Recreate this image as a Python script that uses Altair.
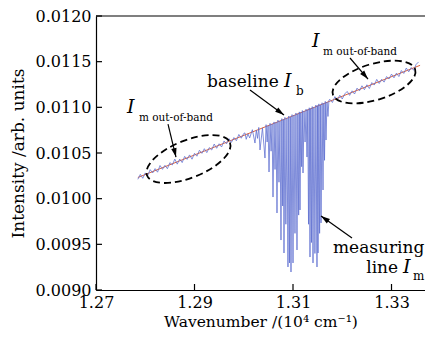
import altair as alt
import pandas as pd

FONT = "DejaVu Serif"

# ---------------- data ----------------
x_ticks = [1.27, 1.29, 1.31, 1.33]
y_ticks = [0.0090, 0.0095, 0.0100, 0.0105, 0.0110, 0.0115, 0.0120]

wn_left = [1.2785, 1.2790, 1.2795, 1.2800, 1.2805, 1.2810, 1.2815, 1.2820, 1.2825, 1.2830,
           1.2835, 1.2840, 1.2845, 1.2850, 1.2855, 1.2860, 1.2865, 1.2870, 1.2875, 1.2880,
           1.2885, 1.2890, 1.2895, 1.2900, 1.2905, 1.2910, 1.2915, 1.2920, 1.2925, 1.2930,
           1.2935, 1.2940, 1.2945, 1.2950, 1.2955, 1.2960, 1.2965, 1.2970, 1.2975, 1.2980,
           1.2985, 1.2990, 1.2995, 1.3000]
int_left = [0.010212, 0.010266, 0.010223, 0.010282, 0.010253, 0.010318, 0.010281, 0.010329,
            0.010290, 0.010363, 0.010321, 0.010365, 0.010328, 0.010395, 0.010369, 0.010433,
            0.010378, 0.010434, 0.010395, 0.010463, 0.010430, 0.010479, 0.010432, 0.010497,
            0.010465, 0.010530, 0.010496, 0.010547, 0.010504, 0.010559, 0.010533, 0.010598,
            0.010552, 0.010601, 0.010566, 0.010632, 0.010600, 0.010657, 0.010616, 0.010669,
            0.010634, 0.010703, 0.010662, 0.010714]

wn_band = [1.30025, 1.3005, 1.30085, 1.3012, 1.30175, 1.30228, 1.30255, 1.3028, 1.30305, 1.3033,
           1.3038, 1.30431, 1.30453, 1.30475, 1.30494, 1.30513, 1.30534, 1.30555, 1.30575, 1.30594,
           1.30615, 1.30635, 1.30655, 1.30675, 1.30695, 1.30715, 1.30735, 1.30756, 1.30773, 1.3079,
           1.30803, 1.30817, 1.30836, 1.30855, 1.30877, 1.30898, 1.30914, 1.3093, 1.30945, 1.30959,
           1.3098, 1.31, 1.3102, 1.3104, 1.3106, 1.31081, 1.31098, 1.31115, 1.31128, 1.31142,
           1.31158, 1.31175, 1.31189, 1.31203, 1.31224, 1.31245, 1.31265, 1.31284, 1.313, 1.31315,
           1.3133, 1.31345, 1.3136, 1.31375, 1.3139, 1.31406, 1.31425, 1.31445, 1.31465, 1.31487,
           1.31497, 1.31508, 1.31525, 1.3154, 1.31555, 1.31569, 1.3159, 1.31609, 1.31625, 1.3164,
           1.31655, 1.3167, 1.3169, 1.3171, 1.3173]
int_band = [0.010720, 0.010650, 0.010710, 0.010665, 0.010755, 0.010609, 0.010750, 0.010660,
            0.010780, 0.010533, 0.010775, 0.010445, 0.010810, 0.010620, 0.010800, 0.010292,
            0.010825, 0.010520, 0.010818, 0.010018, 0.010840, 0.010320, 0.010836, 0.009843,
            0.010860, 0.010180, 0.010850, 0.009547, 0.010876, 0.009920, 0.010867, 0.009405,
            0.010890, 0.009720, 0.010882, 0.009252, 0.010905, 0.009296, 0.010896, 0.009197,
            0.010920, 0.009296, 0.010915, 0.009620, 0.010938, 0.009438, 0.010930, 0.009820,
            0.010950, 0.009876, 0.010943, 0.010350, 0.010965, 0.010281, 0.010958, 0.010620,
            0.010980, 0.010456, 0.010975, 0.009720, 0.010995, 0.009361, 0.010988, 0.009520,
            0.011008, 0.009296, 0.011000, 0.009400, 0.011025, 0.009252, 0.011018, 0.009405,
            0.011038, 0.009620, 0.011028, 0.009734, 0.011050, 0.010095, 0.011044, 0.010420,
            0.011065, 0.010642, 0.011058, 0.010900, 0.011080]

wn_right = [1.3175, 1.3180, 1.3185, 1.3190, 1.3195, 1.3200, 1.3205, 1.3210, 1.3215, 1.3220,
            1.3225, 1.3230, 1.3235, 1.3240, 1.3245, 1.3250, 1.3255, 1.3260, 1.3265, 1.3270,
            1.3275, 1.3280, 1.3285, 1.3290, 1.3295, 1.3300, 1.3305, 1.3310, 1.3315, 1.3320,
            1.3325, 1.3330, 1.3335, 1.3340, 1.3345, 1.3350, 1.3355]
int_right = [0.011087, 0.011053, 0.011117, 0.011081, 0.011132, 0.011091, 0.011147, 0.011174,
             0.011131, 0.011181, 0.011146, 0.011210, 0.011181, 0.011236, 0.011193, 0.011247,
             0.011206, 0.011271, 0.011244, 0.011306, 0.011261, 0.011307, 0.011276, 0.011337,
             0.011310, 0.011364, 0.011323, 0.011374, 0.011337, 0.011403, 0.011371, 0.011430,
             0.011389, 0.011436, 0.011406, 0.011470, 0.011497]

base_wn = [1.2785, 1.3358]
base_int = [0.010232, 0.011460]

# annotations (data coordinates)
ell_wn = [1.28878, 1.32645]
ell_int = [0.010434, 0.011277]
ell_size = [7957, 7396]
ell_angle = [338.3, 343.0]

arr_wn = [1.28462, 1.30127, 1.32157, 1.32198]
arr_int = [0.010817, 0.011190, 0.011540, 0.009569]
arr_wn2 = [1.28624, 1.30817, 1.32523, 1.31569]
arr_int2 = [0.010456, 0.010916, 0.011310, 0.009810]
arr_angle = [166.4, 126.3, 139.4, 305.4]

txt = ["m out-of-band", "m out-of-band", "baseline", "b", "measuring", "line", "m"]
txt_wn = [1.27873, 1.31609, 1.29254, 1.31061, 1.31812, 1.32487, 1.33437]
txt_int = [0.010850, 0.011573, 0.011223, 0.011135, 0.009405, 0.009186, 0.009109]
txt_fs = [10.5, 10.5, 17, 12, 17, 17, 12]

it_wn = [1.27629, 1.31386, 1.30817, 1.33234]
it_int = [0.010938, 0.011661, 0.011223, 0.009186]

# ---------------- chart ----------------
W, H = 329, 274
x_scale = alt.Scale(domain=[1.27, 1.3368], nice=False, zero=False)
y_scale = alt.Scale(domain=[0.009, 0.012], nice=False, zero=False)

x_axis = alt.Axis(title="Wavenumber /(10⁴ cm⁻¹)", values=x_ticks, format=".2f", tickSize=0,
                  labelPadding=4, labelFlush=False,
                  labelOverlap=False, labelFontSize=16, labelFont=FONT, labelColor="black",
                  titleFont=FONT, titleFontSize=15.5, titleFontWeight="normal", titleColor="black",
                  titleY=36.5, titleBaseline="alphabetic", domainColor="black", domainWidth=1.2,
                  grid=False)
y_axis = alt.Axis(title="Intensity /arb. units", values=y_ticks, format=".4f", tickSize=0,
                  labelPadding=5, labelFlush=False,
                  labelOverlap=False, labelFontSize=16, labelFont=FONT, labelColor="black",
                  titleFont=FONT, titleFontSize=17, titleFontWeight="normal", titleColor="black",
                  titleX=-69, titleY=137, titleAngle=270, titleBaseline="bottom", titleAlign="center",
                  domainColor="black", domainWidth=1.2, grid=False)


def X(field):
    return alt.X(field, type="quantitative", scale=x_scale, axis=x_axis)


def Y(field):
    return alt.Y(field, type="quantitative", scale=y_scale, axis=y_axis)


wn_all = wn_left + wn_band + wn_right
int_all = int_left + int_band + int_right
spec_df = pd.DataFrame({"wn": wn_all, "inten": int_all, "idx": list(range(len(wn_all)))})

spec = alt.Chart(spec_df).mark_line(color="#5c6dd0", strokeWidth=0.9, opacity=0.85).encode(
    x=X("wn"), y=Y("inten"), order="idx:Q")

base = alt.Chart(pd.DataFrame({"wn": base_wn, "inten": base_int})).mark_line(
    color="#e0643c", strokeWidth=1.0).encode(x=X("wn"), y=Y("inten"))

yt = alt.Chart(pd.DataFrame({"inten": y_ticks})).mark_rule(color="black", strokeWidth=1.2).encode(
    y=Y("inten"), x=alt.value(0), x2=alt.value(6))
xt = alt.Chart(pd.DataFrame({"wn": x_ticks})).mark_rule(color="black", strokeWidth=1.2).encode(
    x=X("wn"), y=alt.value(H), y2=alt.value(H - 6))
top = alt.Chart(pd.DataFrame({"a": [0]})).mark_rule(color="black", strokeWidth=1.2).encode(
    x=alt.value(0), x2=alt.value(W), y=alt.value(0))

ELLIPSE = ("M 1 0 C 1 0.232 0.552 0.42 0 0.42 C -0.552 0.42 -1 0.232 -1 0 "
           "C -1 -0.232 -0.552 -0.42 0 -0.42 C 0.552 -0.42 1 -0.232 1 0 Z")
ell = alt.Chart(pd.DataFrame({"wn": ell_wn, "inten": ell_int, "s": ell_size, "ang": ell_angle})).mark_point(
    shape=ELLIPSE, filled=False, stroke="black", strokeWidth=1.8, strokeDash=[7, 4], opacity=1).encode(
    x=X("wn"), y=Y("inten"), size=alt.Size("s:Q", scale=None), angle=alt.Angle("ang:Q", scale=None))

arr = alt.Chart(pd.DataFrame({"wn": arr_wn, "inten": arr_int, "wn2": arr_wn2, "inten2": arr_int2})).mark_rule(
    color="black", strokeWidth=1.2).encode(x=X("wn"), y=Y("inten"), x2="wn2:Q", y2="inten2:Q")

HEAD = "M 0 0 L 0.3 1 L -0.3 1 Z"
heads = alt.Chart(pd.DataFrame({"wn": arr_wn2, "inten": arr_int2, "ang": arr_angle})).mark_point(
    shape=HEAD, filled=True, fill="black", strokeWidth=0, size=324, opacity=1).encode(
    x=X("wn"), y=Y("inten"), angle=alt.Angle("ang:Q", scale=None))

texts = alt.Chart(pd.DataFrame({"t": txt, "wn": txt_wn, "inten": txt_int, "fs": txt_fs})).mark_text(
    align="left", baseline="alphabetic", font=FONT, color="black").encode(
    x=X("wn"), y=Y("inten"), text="t:N", size=alt.Size("fs:Q", scale=None))

itexts = alt.Chart(pd.DataFrame({"t": ["I"] * 4, "wn": it_wn, "inten": it_int})).mark_text(
    align="left", baseline="alphabetic", font=FONT, fontStyle="italic", fontSize=19, color="black").encode(
    x=X("wn"), y=Y("inten"), text="t:N")

chart = alt.layer(base, spec, yt, xt, top, ell, arr, heads, texts, itexts).properties(
    width=W, height=H,
    autosize=alt.AutoSizeParams(type="none"),
    padding={"left": 88, "top": 8, "right": 0, "bottom": 40},
).configure_view(stroke=None)

chart.save("out.html", embed_options={"renderer": "svg", "actions": False})
